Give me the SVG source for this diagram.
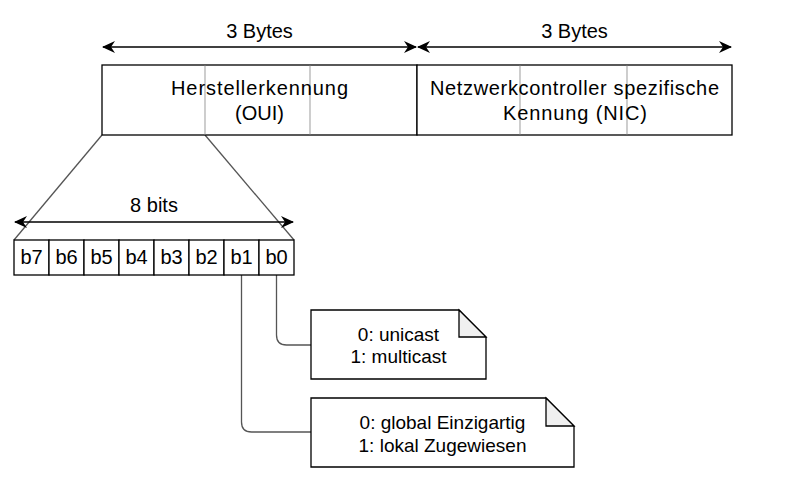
<svg xmlns="http://www.w3.org/2000/svg" width="796" height="481" viewBox="0 0 796 481">
<defs>
<style>
.t{font-family:"Liberation Sans",Arial,sans-serif;fill:#000;text-anchor:middle}
.f20{font-size:20px}
.f18{font-size:19px}
.box{fill:#fff;stroke:#000;stroke-width:1.3}
.div{stroke:#b3b3b3;stroke-width:1.3;fill:none}
.dim{stroke:#000;stroke-width:1.3;fill:none}
.con{stroke:#555;stroke-width:1.3;fill:none}
.fold{fill:#f0f0f0;stroke:#000;stroke-width:1.3;stroke-linejoin:miter}
</style>
<marker id="ah" viewBox="0 0 13 12" refX="12" refY="6" markerWidth="13" markerHeight="12" markerUnits="userSpaceOnUse" orient="auto-start-reverse">
<path d="M0,0 L13,6 L0,12 L4,6 Z" fill="#000"/>
</marker>
</defs>
<rect width="796" height="481" fill="#fff"/>
<g id="connectors">
<line class="con" x1="102" y1="135" x2="14" y2="240"/>
<line class="con" x1="205" y1="135" x2="294" y2="240"/>
<path class="con" d="M276.5,275 V335 Q276.5,345 286.5,345 H311"/>
<path class="con" d="M241.5,275 V422 Q241.5,432 251.5,432 H311"/>
</g>
<g id="dim-oui">
<line class="dim" x1="103" y1="47" x2="416" y2="47" marker-start="url(#ah)" marker-end="url(#ah)"/>
<text class="t f20" x="259.5" y="38">3 Bytes</text>
</g>
<g id="dim-nic">
<line class="dim" x1="418" y1="47" x2="731" y2="47" marker-start="url(#ah)" marker-end="url(#ah)"/>
<text class="t f20" x="574.5" y="38">3 Bytes</text>
</g>
<g id="oui">
<rect class="box" x="102" y="65" width="315" height="70"/>
<line class="div" x1="205" y1="65.7" x2="205" y2="134.3"/>
<line class="div" x1="310" y1="65.7" x2="310" y2="134.3"/>
<text class="t f20" x="259.5" y="95" textLength="177" lengthAdjust="spacing">Herstellerkennung</text>
<text class="t f20" x="259.5" y="120">(OUI)</text>
</g>
<g id="nic">
<rect class="box" x="417" y="65" width="315" height="70"/>
<line class="div" x1="520" y1="65.7" x2="520" y2="134.3"/>
<line class="div" x1="627" y1="65.7" x2="627" y2="134.3"/>
<text class="t f20" x="574.5" y="95" textLength="289" lengthAdjust="spacing">Netzwerkcontroller spezifische</text>
<text class="t f20" x="575" y="120" textLength="144" lengthAdjust="spacing">Kennung (NIC)</text>
</g>
<g id="dim-bits">
<line class="dim" x1="15" y1="222" x2="293" y2="222" marker-start="url(#ah)" marker-end="url(#ah)"/>
<text class="t f20" x="154" y="212">8 bits</text>
</g>
<g id="bits">
<rect class="box" x="14" y="240" width="35" height="35"/>
<rect class="box" x="49" y="240" width="35" height="35"/>
<rect class="box" x="84" y="240" width="35" height="35"/>
<rect class="box" x="119" y="240" width="35" height="35"/>
<rect class="box" x="154" y="240" width="35" height="35"/>
<rect class="box" x="189" y="240" width="35" height="35"/>
<rect class="box" x="224" y="240" width="35" height="35"/>
<rect class="box" x="259" y="240" width="35" height="35"/>
<text class="t f20" x="31.5" y="264">b7</text>
<text class="t f20" x="66.5" y="264">b6</text>
<text class="t f20" x="101.5" y="264">b5</text>
<text class="t f20" x="136.5" y="264">b4</text>
<text class="t f20" x="171.5" y="264">b3</text>
<text class="t f20" x="206.5" y="264">b2</text>
<text class="t f20" x="241.5" y="264">b1</text>
<text class="t f20" x="276.5" y="264">b0</text>
</g>
<g id="note-b0">
<path class="box" d="M311,310 H459 L486,337 V379 H311 Z"/>
<path class="fold" d="M459,310 V337 H486 Z"/>
<text class="t f18" x="398.5" y="341">0: unicast</text>
<text class="t f18" x="398.5" y="363">1: multicast</text>
</g>
<g id="note-b1">
<path class="box" d="M311,398 H546 L574,426 V467 H311 Z"/>
<path class="fold" d="M546,398 V426 H574 Z"/>
<text class="t f18" x="442.5" y="429">0: global Einzigartig</text>
<text class="t f18" x="442.5" y="452">1: lokal Zugewiesen</text>
</g>
</svg>
